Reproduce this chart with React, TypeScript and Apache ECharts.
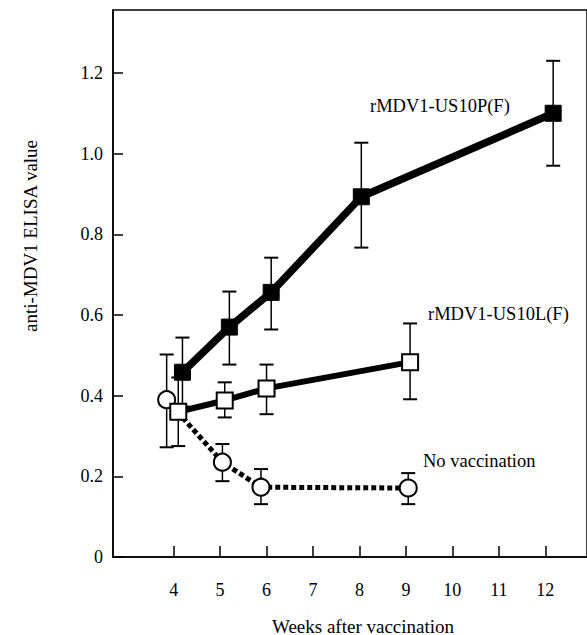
import React, { useEffect, useRef } from "react";
import * as echarts from "echarts";

// Data
const xTicks = [4, 5, 6, 7, 8, 9, 10, 11, 12];
const yTicks = [0, 0.2, 0.4, 0.6, 0.8, 1.0, 1.2];

const weeksNoVac = [3.85, 5.05, 5.88, 9.05];
const meanNoVac = [0.39, 0.235, 0.173, 0.171];
const lowNoVac = [0.272, 0.188, 0.131, 0.131];
const highNoVac = [0.502, 0.28, 0.218, 0.208];

const weeksL = [4.1, 5.1, 6.0, 9.09];
const meanL = [0.36, 0.388, 0.418, 0.483];
const lowL = [0.275, 0.346, 0.354, 0.391];
const highL = [0.445, 0.433, 0.477, 0.579];

const weeksP = [4.19, 5.2, 6.1, 8.04, 12.17];
const meanP = [0.458, 0.57, 0.656, 0.893, 1.1];
const lowP = [0.373, 0.477, 0.564, 0.767, 0.97];
const highP = [0.544, 0.658, 0.742, 1.027, 1.23];

const labelP = "rMDV1-US10P(F)";
const labelL = "rMDV1-US10L(F)";
const labelNo = "No vaccination";
const xTitle = "Weeks after vaccination";
const yTitle = "anti-MDV1 ELISA value";

const FONT = "Liberation Serif";

function errSeries(xs: number[], lo: number[], hi: number[]) {
  return {
    type: "custom",
    z: 1,
    data: xs.map((x, i) => [x, lo[i], hi[i]]),
    renderItem: (params: any, api: any) => {
      const a = api.coord([api.value(0), api.value(1)]);
      const b = api.coord([api.value(0), api.value(2)]);
      const w = 7;
      const st = { stroke: "#000", lineWidth: 1.5 };
      return {
        type: "group",
        children: [
          { type: "line", shape: { x1: a[0], y1: a[1], x2: b[0], y2: b[1] }, style: st },
          { type: "line", shape: { x1: a[0] - w, y1: a[1], x2: a[0] + w, y2: a[1] }, style: { stroke: "#000", lineWidth: 2 } },
          { type: "line", shape: { x1: b[0] - w, y1: b[1], x2: b[0] + w, y2: b[1] }, style: { stroke: "#000", lineWidth: 2 } },
        ],
      };
    },
  };
}

export default function App() {
  const ref = useRef<HTMLDivElement>(null);
  useEffect(() => {
    if (!ref.current) return;
    const chart = echarts.init(ref.current, undefined, { renderer: "svg" });
    chart.setOption({
      animation: false,
      backgroundColor: "#fff",
      grid: {
        left: 113,
        right: -3,
        top: 10,
        bottom: 78,
        show: true,
        borderColor: "#000",
        borderWidth: 1.5,
        containLabel: false,
      },
      xAxis: {
        type: "value",
        min: 2.695,
        max: 12.898,
        splitLine: { show: false },
        axisLine: { show: true, onZero: false, lineStyle: { color: "#000", width: 1.5 } },
        axisTick: { show: true, inside: true, length: 11, customValues: xTicks, lineStyle: { color: "#000", width: 1.5 } },
        axisLabel: {
          customValues: xTicks,
          margin: 24,
          color: "#000",
          fontFamily: FONT,
          fontSize: 18,
        },
      },
      yAxis: {
        type: "value",
        min: 0,
        max: 1.356,
        splitLine: { show: false },
        axisLine: { show: true, lineStyle: { color: "#000", width: 1.5 } },
        axisTick: { show: true, inside: true, length: 10, customValues: yTicks, lineStyle: { color: "#000", width: 1.5 } },
        axisLabel: {
          customValues: yTicks,
          margin: 10,
          color: "#000",
          fontFamily: FONT,
          fontSize: 18,
          formatter: (v: number) => (v === 0 ? "0" : v.toFixed(1)),
        },
      },
      series: [
        errSeries(weeksNoVac, lowNoVac, highNoVac),
        errSeries(weeksL, lowL, highL),
        errSeries(weeksP, lowP, highP),
        {
          type: "line",
          name: labelNo,
          z: 2,
          data: weeksNoVac.map((x, i) => [x, meanNoVac[i]]),
          symbol: "circle",
          symbolSize: 17,
          lineStyle: { color: "#000", width: 5, type: [5, 3] },
          itemStyle: { color: "#fff", borderColor: "#000", borderWidth: 2 },
        },
        {
          type: "line",
          name: labelL,
          z: 3,
          data: weeksL.map((x, i) => [x, meanL[i]]),
          symbol: "rect",
          symbolSize: 16,
          lineStyle: { color: "#000", width: 6 },
          itemStyle: { color: "#fff", borderColor: "#000", borderWidth: 2 },
        },
        {
          type: "line",
          name: labelP,
          z: 4,
          data: weeksP.map((x, i) => [x, meanP[i]]),
          symbol: "rect",
          symbolSize: 16,
          lineStyle: { color: "#000", width: 7.5 },
          itemStyle: { color: "#000", borderColor: "#000", borderWidth: 1 },
        },
      ],
      graphic: [
        { type: "text", left: 370, top: 107 - 11, style: { text: labelP, fontFamily: FONT, fontSize: 18.5, fill: "#000" } },
        { type: "text", left: 428, top: 315 - 11, style: { text: labelL, fontFamily: FONT, fontSize: 18.5, fill: "#000" } },
        { type: "text", left: 423, top: 462 - 11, style: { text: labelNo, fontFamily: FONT, fontSize: 18.5, fill: "#000" } },
        {
          type: "text",
          x: 30,
          y: 236,
          rotation: Math.PI / 2,
          style: { text: yTitle, fontFamily: FONT, fontSize: 19, fill: "#000", align: "center", verticalAlign: "middle" },
        },
        {
          type: "text",
          x: 363,
          y: 626,
          style: { text: xTitle, fontFamily: FONT, fontSize: 19, fill: "#000", align: "center", verticalAlign: "middle" },
        },
      ],
    });
    return () => chart.dispose();
  }, []);
  return <div ref={ref} style={{ position: "fixed", left: 0, top: 0, width: 587, height: 635 }} />;
}
